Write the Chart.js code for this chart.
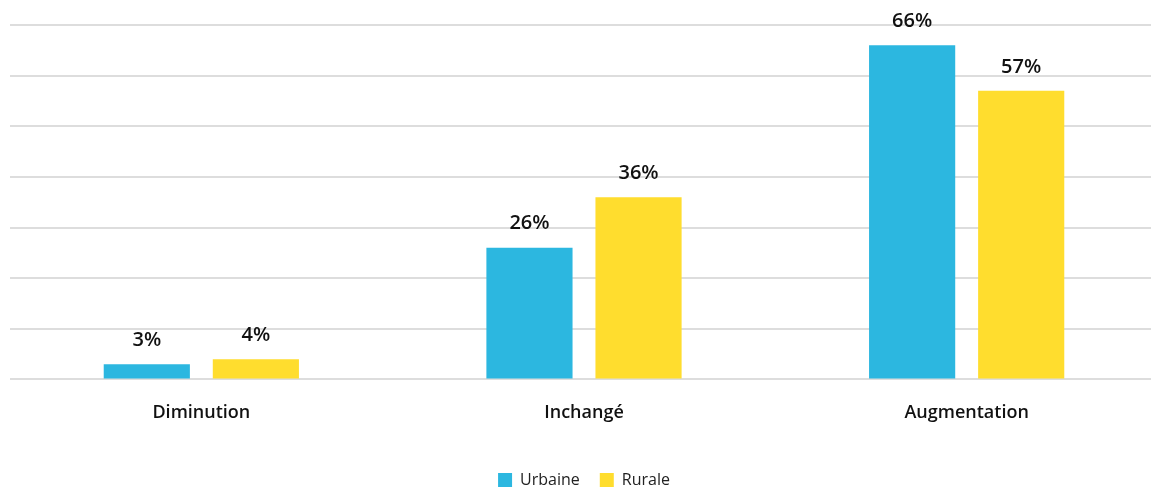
<!DOCTYPE html>
<html>
<head>
<meta charset="utf-8">
<script src="https://cdn.jsdelivr.net/npm/chart.js@4.4.1/dist/chart.umd.min.js"></script>
<style>
  html,body{margin:0;padding:0;background:#fff;overflow:hidden;}
  #wrap{width:1158px;height:498px;position:relative;}
</style>
</head>
<body>
<div id="wrap"><canvas id="chart"></canvas></div>
<script>
/* données */
const categories = ["Diminution", "Inchangé", "Augmentation"];
const urbaine = [3, 26, 66];
const rurale = [4, 36, 57];
const seriesNames = ["Urbaine", "Rurale"];

const BLUE = "#2cb7e0";
const YELLOW = "#ffdd2e";
const FONT = "'Open Sans', 'DejaVu Sans', sans-serif";

/* étiquettes de valeur au-dessus des barres */
const valueLabels = {
  id: "valueLabels",
  afterDatasetsDraw(chart){
    const {ctx} = chart;
    ctx.save();
    ctx.font = "600 20px " + FONT;
    ctx.fillStyle = "#111";
    ctx.textAlign = "center";
    ctx.textBaseline = "middle";
    chart.data.datasets.forEach((ds, i) => {
      chart.getDatasetMeta(i).data.forEach((bar, j) => {
        ctx.fillText(ds.data[j] + "%", bar.x, bar.y - 24);
      });
    });
    ctx.restore();
  }
};

new Chart(document.getElementById("chart"), {
  type: "bar",
  data: {
    labels: categories,
    datasets: [
      {label: seriesNames[0], data: urbaine, backgroundColor: BLUE},
      {label: seriesNames[1], data: rurale, backgroundColor: YELLOW}
    ]
  },
  options: {
    responsive: true,
    maintainAspectRatio: false,
    animation: false,
    categoryPercentage: 0.57,
    barPercentage: 0.79,
    layout: {padding: {top: 25, left: 10, right: 0, bottom: 0}},
    scales: {
      x: {
        grid: {display: false},
        border: {display: false},
        ticks: {color: "#111", padding: 15, font: {family: FONT, size: 18, weight: "600"}},
        // espace libre sous les catégories
        afterFit(scale){ scale.height += 13; }
      },
      y: {
        min: 0, max: 70,
        ticks: {display: false, stepSize: 10},
        border: {display: false},
        grid: {color: "#dddddd", lineWidth: 2, drawTicks: false}
      }
    },
    plugins: {
      tooltip: {enabled: false},
      legend: {
        position: "bottom",
        labels: {
          boxWidth: 14, boxHeight: 14, padding: 20,
          color: "#222",
          font: {family: FONT, size: 16}
        }
      }
    }
  },
  plugins: [valueLabels]
});
</script>
</body>
</html>
